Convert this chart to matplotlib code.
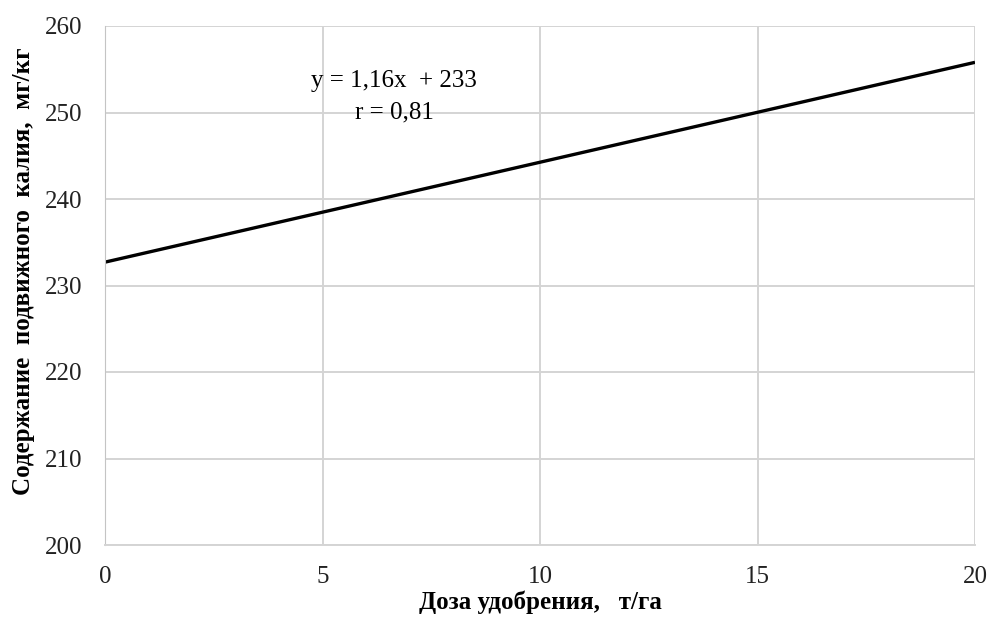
import matplotlib
matplotlib.use("Agg")
import matplotlib.pyplot as plt

x_vals = [0, 20]
y_vals = [232.7, 255.8]
x_ticks = [0, 5, 10, 15, 20]
y_ticks = [200, 210, 220, 230, 240, 250, 260]
eq_text = "y = 1,16x  + 233"
r_text = "r = 0,81"
x_label = "Доза удобрения,   т/га"
y_label = "Содержание  подвижного  калия,  мг/кг"

plt.rcParams['font.family'] = ['Liberation Serif', 'DejaVu Serif']

fig = plt.figure(figsize=(9.97, 6.21), dpi=100)
ax = fig.add_axes([105/997, 1-545/621, 870/997, (545-26)/621])

ax.plot(x_vals, y_vals, color='black', lw=2.4, solid_capstyle='butt')

ax.set_xlim(0, 20)
ax.set_ylim(200, 260)
ax.set_xticks(x_ticks)
ax.set_yticks(y_ticks)
ax.grid(True, color='#d4d4d4', lw=1.4)
ax.set_axisbelow(True)
for s in ['top', 'right']:
    ax.spines[s].set_visible(False)
ax.spines['bottom'].set_color('#d4d4d4')
ax.spines['left'].set_color('#c4c4c4')
ax.spines['bottom'].set_linewidth(1.4)
ax.tick_params(axis='both', length=0, labelsize=18, colors='#222222')
ax.tick_params(axis='x', pad=15)
ax.tick_params(axis='y', pad=16)

ax.text(6.65, 253.6, eq_text, ha='center', va='center', fontsize=18)
ax.text(6.65, 250.0, r_text, ha='center', va='center', fontsize=18)

ax.set_xlabel(x_label, fontsize=18, fontweight='bold', labelpad=2)
ax.set_ylabel(y_label, fontsize=18, fontweight='bold')
ax.yaxis.set_label_coords(-0.080, 0.528)

fig.savefig("out.png", dpi=100)
